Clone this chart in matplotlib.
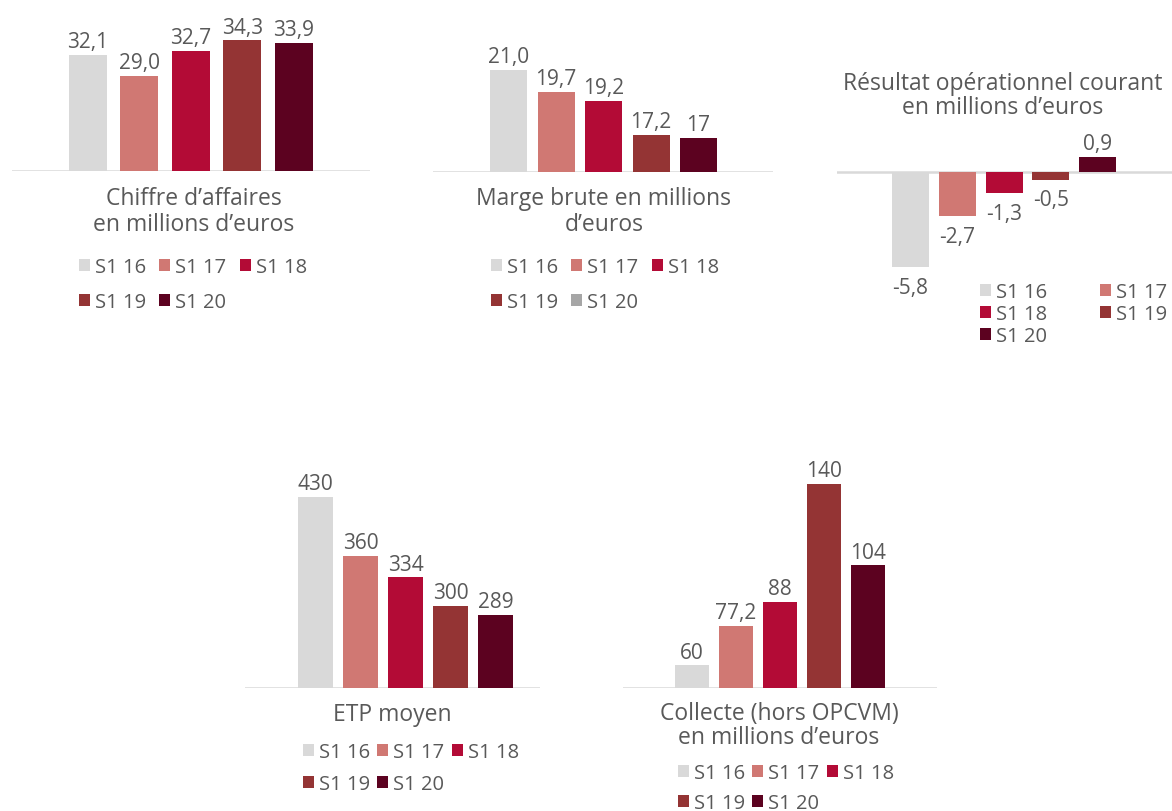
import matplotlib.pyplot as plt
from matplotlib.patches import Patch

plt.rcParams['font.family'] = ['Open Sans', 'DejaVu Sans']

W, H = 1172, 812
TXT = '#595959'

periods = ['S1 16', 'S1 17', 'S1 18', 'S1 19', 'S1 20']
colors = ['#d9d9d9', '#d07873', '#b30b36', '#943434', '#5c0220']

ca_values = [32.1, 29.0, 32.7, 34.3, 33.9]
ca_labels = ['32,1', '29,0', '32,7', '34,3', '33,9']
marge_values = [21.0, 19.7, 19.2, 17.2, 17.0]
marge_labels = ['21,0', '19,7', '19,2', '17,2', '17']
roc_values = [-5.8, -2.7, -1.3, -0.5, 0.9]
roc_labels = ['-5,8', '-2,7', '-1,3', '-0,5', '0,9']
etp_values = [430, 360, 334, 300, 289]
etp_labels = ['430', '360', '334', '300', '289']
collecte_values = [60, 77.2, 88, 140, 104]
collecte_labels = ['60', '77,2', '88', '140', '104']

FS = 15      # value labels
FS_T = 16.5  # titles
FS_L = 14.5  # legends


def fx(px):
    return px / W


def fy(py):
    return 1 - py / H


def panel(fig, box, c0, step, wpx, base_px, base_v, scale, values, labels):
    # box = (x0, x1, ytop, ybottom) in pixels
    x0, x1, pt, pb = box
    ax = fig.add_axes([fx(x0), fy(pb), (x1 - x0) / W, (pb - pt) / H])
    ax.set_xlim((x0 - c0) / step, (x1 - c0) / step)
    ax.set_ylim(base_v - (pb - base_px) / scale, base_v + (base_px - pt) / scale)
    xs = range(len(values))
    ax.bar(xs, [v - base_v for v in values], bottom=base_v, width=wpx / step,
           color=colors, zorder=3)
    ax.axhline(base_v, color='#d9d9d9', lw=1.8, zorder=2)
    for i, (v, lab) in enumerate(zip(values, labels)):
        if v >= base_v:
            ax.annotate(lab, (i, v), xytext=(0, 2), textcoords='offset points',
                        ha='center', va='bottom', fontsize=FS, color=TXT)
        else:
            ax.annotate(lab, (i, v), xytext=(0, -7), textcoords='offset points',
                        ha='center', va='top', fontsize=FS, color=TXT)
    ax.axis('off')
    return ax


def title(fig, x, y, s, lsp):
    fig.text(fx(x), fy(y), s, ha='center', va='center', fontsize=FS_T,
             color=TXT, linespacing=lsp)


def legend(fig, x, y, ncol, order, swatches=None, colsp=0.5, lsp=0.75):
    cols = swatches or colors
    handles = [Patch(facecolor=cols[i], label=periods[i]) for i in order]
    fig.legend(handles=handles, loc='upper left', bbox_to_anchor=(fx(x), fy(y)),
               ncol=ncol, frameon=False, fontsize=FS_L, labelcolor=TXT,
               handlelength=0.55, handleheight=0.55, handletextpad=0.25,
               columnspacing=colsp, labelspacing=lsp, borderpad=0,
               borderaxespad=0)


fig = plt.figure(figsize=(W / 100, H / 100), dpi=100)

row_order = [0, 3, 1, 4, 2]

# Chiffre d'affaires
panel(fig, (12, 370, 20, 172), 88, 51.4, 38, 172, 15, 6.77, ca_values, ca_labels)
title(fig, 194, 212, 'Chiffre d’affaires\nen millions d’euros', 1.1)
legend(fig, 79, 258, 3, row_order, colsp=0.65)

# Marge brute
panel(fig, (433, 773, 20, 173), 508.5, 47.5, 37, 173, 15, 17, marge_values, marge_labels)
title(fig, 604, 212, 'Marge brute en millions\nd’euros', 1.1)
legend(fig, 491, 258, 3, row_order, colsp=0.65,
       swatches=colors[:4] + ['#a6a6a6'])

# Résultat opérationnel courant
panel(fig, (837, 1172, 120, 300), 910.5, 46.75, 37, 172.5, 0, 16.5, roc_values, roc_labels)
title(fig, 1003, 96, 'Résultat opérationnel courant\nen millions d’euros', 1.05)
legend(fig, 980, 283, 2, [0, 2, 4, 1, 3], colsp=2.6, lsp=0.1)

# ETP moyen
panel(fig, (245, 540, 470, 689), 315.5, 45.1, 35, 689, 202, 0.838, etp_values, etp_labels)
title(fig, 392, 715, 'ETP moyen', 1.0)
legend(fig, 303, 743, 3, row_order, colsp=0.35, lsp=0.6)

# Collecte
panel(fig, (623, 937, 450, 689), 692, 44, 34, 689, 50, 2.27, collecte_values, collecte_labels)
title(fig, 779, 726, 'Collecte (hors OPCVM)\nen millions d’euros', 0.97)
legend(fig, 678, 764, 3, row_order, colsp=0.35, lsp=0.5)

fig.savefig('out.png', dpi=100, facecolor='white')
